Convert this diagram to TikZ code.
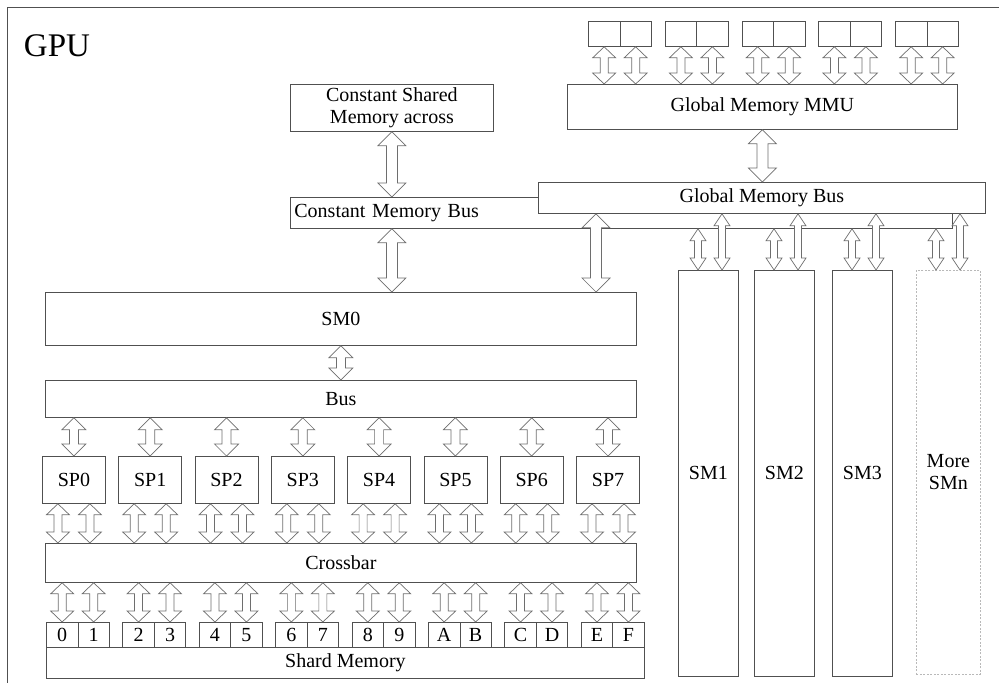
\documentclass[tikz,border=0pt]{standalone}
\usepackage{fontspec}
\setmainfont{Liberation Serif}
\usetikzlibrary{calc}
\definecolor{boxgray}{RGB}{80,80,80}
\definecolor{arrowgray}{RGB}{110,110,110}
\definecolor{dashgray}{RGB}{185,185,185}
\tikzset{
  every node/.style={font=\fontsize{20}{22}\selectfont},
  box/.style={draw=boxgray, fill=white, line width=0.8pt, inner sep=0pt, anchor=north west},
  cell/.style={box, minimum width=31.5, minimum height=25},
  arrow dims/.code n args={3}{\def\hw{#1}\def\sw{#2}\def\hl{#3}},
  dblarrow/.style={draw=arrowgray, fill=white, line width=0.7pt,
    to path={let \p1=(\tikztostart), \p2=(\tikztotarget) in
      (\x1,\y1) -- (\x1+\hw,\y1-\hl) -- (\x1+\sw,\y1-\hl) -- (\x1+\sw,\y2+\hl)
      -- (\x1+\hw,\y2+\hl) -- (\x1,\y2) -- (\x1-\hw,\y2+\hl) -- (\x1-\sw,\y2+\hl)
      -- (\x1-\sw,\y1-\hl) -- (\x1-\hw,\y1-\hl) -- cycle}},
  big arrow/.style={dblarrow, arrow dims={14pt}{5.5pt}{14pt}},
  mid arrow/.style={dblarrow, arrow dims={12pt}{4.5pt}{12pt}},
  small arrow/.style={dblarrow, arrow dims={11.5pt}{4pt}{11pt}},
  thin arrow/.style={dblarrow, arrow dims={8pt}{3.5pt}{12pt}}
}

\begin{document}
\begin{tikzpicture}[x=1pt, y=-1pt]
  \useasboundingbox (0,0) rectangle (999,683);
  \draw[boxgray, line width=0.8pt] (999,7) -| (7,683);
  \node[font=\fontsize{33}{36}\selectfont] (gpu) at (57,46) {GPU};

  % global memory side
  \foreach \g in {0,...,4} {
    \node[cell] (gma\g) at ({588+76.75*\g},21) {};
    \node[cell] (gmb\g) at ({619.5+76.75*\g},21) {};
  }
  \node[box, minimum width=390, minimum height=45] (mmu) at (567,84) {Global Memory MMU};
  \node[box, minimum width=203, minimum height=47, align=center] (cshared) at (290,84) {Constant Shared\\Memory across};
  \node[box, minimum width=662, minimum height=31, text width=654, align=left, inner xsep=4] (cbus) at (290,197) {Constant Memory Bus};
  \node[box, minimum width=447, minimum height=31] (gbus) at (538,182) {Global Memory Bus};

  % SM0 and its parts
  \node[box, minimum width=591, minimum height=53] (sm0) at (45,292) {SM0};
  \node[box, minimum width=591, minimum height=37] (bus) at (45,380) {Bus};
  \foreach \i in {0,...,7}
    \node[box, minimum width=63, minimum height=47] (sp\i) at ({42+76.3*\i},456) {SP\i};
  \node[box, minimum width=591, minimum height=39] (xbar) at (45,543) {Crossbar};
  \node[box, minimum width=598, minimum height=31] (shmem) at (46,647) {Shard Memory};
  \foreach \a/\b [count=\j from 0] in {0/1,2/3,4/5,6/7,8/9,A/B,C/D,E/F} {
    \node[cell] (sc\a) at ({46+76.4*\j},622) {\a};
    \node[cell] (sc\b) at ({77.5+76.4*\j},622) {\b};
  }

  % other SMs
  \foreach \k/\xx in {1/678,2/754,3/832}
    \node[box, minimum width=60, minimum height=406] (sm\k) at (\xx,270) {SM\k};
  \node[box, draw=dashgray, dash pattern=on 2pt off 1.5pt, minimum width=64, minimum height=404, align=center] (smn) at (916,270) {More\\SMn};

  % connectors
  \foreach \g in {0,...,4} {
    \draw[small arrow] (gma\g.south) to (gma\g.south |- mmu.north);
    \draw[small arrow] (gmb\g.south) to (gmb\g.south |- mmu.north);
  }
  \draw[big arrow] (mmu.south) to (mmu.south |- gbus.north);
  \draw[big arrow] (cshared.south) to (cshared.south |- cbus.north);
  \draw[big arrow] (cbus.south -| cshared.south) to (sm0.north -| cshared.south);
  \coordinate (g0) at (596,292);
  \draw[big arrow] (gbus.south -| g0) to (g0);
  \foreach \k in {1,2,3,n} {
    \coordinate (cl\k) at ([xshift=20]sm\k.north west);
    \coordinate (cr\k) at ([xshift=44]sm\k.north west);
    \draw[thin arrow] (cbus.south -| cl\k) to (cl\k);
    \draw[thin arrow] (gbus.south -| cr\k) to (cr\k);
  }
  \draw[mid arrow] (sm0.south) to (bus.north);
  \foreach \i in {0,...,7} {
    \draw[mid arrow] (bus.south -| sp\i.north) to (sp\i.north);
    \coordinate (spl\i) at ([xshift=-16]sp\i.south);
    \coordinate (spr\i) at ([xshift=16]sp\i.south);
    \draw[small arrow] (spl\i) to (spl\i |- xbar.north);
    \draw[small arrow] (spr\i) to (spr\i |- xbar.north);
  }
  \foreach \c in {0,1,2,3,4,5,6,7,8,9,A,B,C,D,E,F}
    \draw[small arrow] (xbar.south -| sc\c.north) to (sc\c.north);
\end{tikzpicture}
\end{document}
